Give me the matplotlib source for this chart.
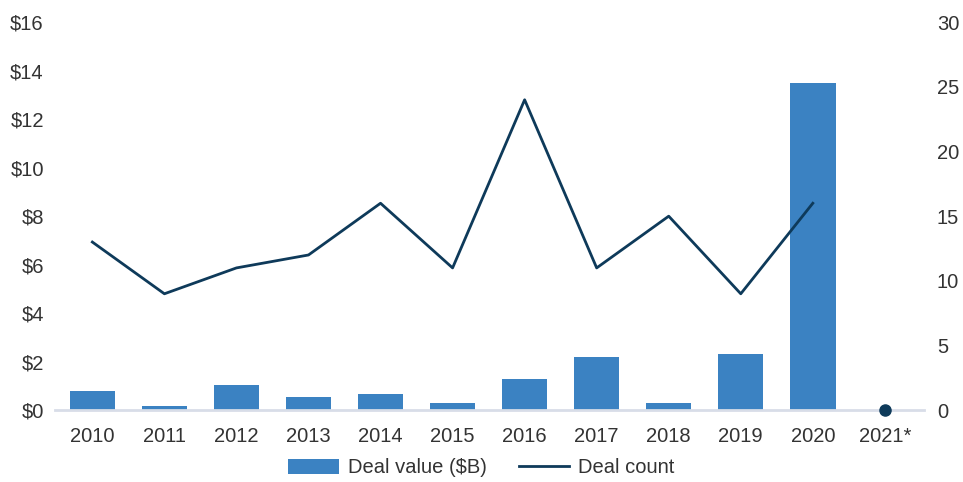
import matplotlib.pyplot as plt
import numpy as np

plt.rcParams['font.family'] = ['Liberation Sans', 'DejaVu Sans']

years = ['2010', '2011', '2012', '2013', '2014', '2015', '2016', '2017',
         '2018', '2019', '2020', '2021*']
deal_value = [0.78, 0.16, 1.03, 0.54, 0.66, 0.29, 1.28, 2.19, 0.29, 2.31, 13.48, 0]
deal_count = [13, 9, 11, 12, 16, 11, 24, 11, 15, 9, 16]
count_2021 = 0

bar_col = '#3b82c2'
line_col = '#0e3a5a'
txt_col = '#333333'

x = np.arange(len(years))

fig = plt.figure(figsize=(9.63, 4.82), dpi=100)
ax = fig.add_axes([0.057, 0.149, 0.903, 0.805])
ax2 = ax.twinx()

bars = ax.bar(x, deal_value, width=0.63, color=bar_col, label='Deal value ($B)', zorder=2)
ln, = ax2.plot(x[:len(deal_count)], deal_count, color=line_col, lw=2, label='Deal count', zorder=3)
ax2.plot([x[-1]], [count_2021], 'o', color=line_col, ms=8, clip_on=False, zorder=4)

ax.set_xlim(-0.52, 11.55)
ax.set_ylim(0, 16)
ax2.set_ylim(0, 30)
ax.set_yticks(range(0, 17, 2))
ax.set_yticklabels(['$%d' % v for v in range(0, 17, 2)])
ax2.set_yticks(range(0, 31, 5))
ax.set_xticks(x)
ax.set_xticklabels(years)

for a in (ax, ax2):
    for s in a.spines.values():
        s.set_visible(False)
    a.tick_params(length=0, labelsize=14.5, colors=txt_col)
ax.spines['bottom'].set_visible(True)
ax.spines['bottom'].set_color('#d8dde8')
ax.spines['bottom'].set_linewidth(2)
ax.tick_params(axis='y', pad=8)
ax.tick_params(axis='x', pad=12)
ax2.tick_params(axis='y', pad=9)

fig.legend(handles=[bars, ln], loc='lower center', bbox_to_anchor=(0.5, -0.028),
           ncol=2, frameon=False, fontsize=14.5, handlelength=2.5, handleheight=0.8,
           columnspacing=1.6, handletextpad=0.45, labelcolor=txt_col)

fig.savefig('out.png', dpi=100)
